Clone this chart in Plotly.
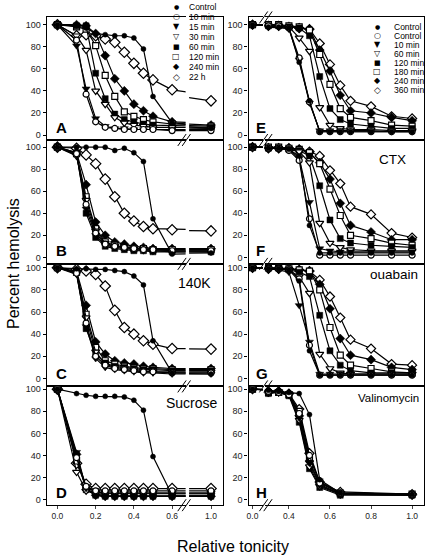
import plotly.graph_objects as go

W, H = 425, 558

# ---------------- data ----------------
x_left = [0, 0.1, 0.15, 0.2, 0.25, 0.3, 0.35, 0.4, 0.45, 0.5, 0.6, 1.0]
x_right = [0, 0.3, 0.35, 0.4, 0.45, 0.5, 0.55, 0.6, 0.65, 0.7, 0.8, 0.9, 1.0]
x_h = [0, 0.3, 0.35, 0.4, 0.45, 0.5, 0.55, 0.65, 1.0]

left_names = ["Control", "10 min", "15 min", "30 min", "60 min", "120 min", "240 min", "22 h"]
right_names = ["Control", "Control", "10 min", "60 min", "120 min", "180 min", "240 min", "360 min"]

A_vals = [
    [100, 99, 97, 92, 91, 90, 90, 88, 78, 35, 11, 6],
    [100, 86, 37, 12, 7, 6, 5, 5, 5, 5, 4, 4],
    [100, 81, 42, 15, 8, 6, 6, 5, 5, 5, 5, 5],
    [100, 90, 77, 40, 28, 16, 11, 9, 8, 7, 7, 6],
    [100, 99, 99, 56, 33, 19, 14, 12, 10, 9, 8, 7],
    [100, 98, 96, 81, 54, 35, 21, 17, 14, 12, 10, 8],
    [100, 100, 99, 92, 72, 51, 40, 28, 22, 17, 12, 9],
    [100, 90, 91, 90, 87, 84, 75, 65, 56, 50, 41, 31],
]
B_vals = [
    [100, 100, 100, 100, 100, 97, 99, 95, 87, 35, 3, 4],
    [100, 94, 48, 22, 12, 10, 9, 8, 7, 7, 6, 6],
    [100, 93, 44, 20, 11, 9, 8, 7, 6, 6, 5, 5],
    [100, 92, 52, 24, 13, 10, 9, 8, 7, 6, 6, 6],
    [100, 95, 40, 18, 10, 8, 7, 6, 6, 5, 5, 5],
    [100, 94, 55, 26, 14, 11, 9, 8, 8, 7, 7, 7],
    [100, 95, 66, 32, 20, 14, 12, 10, 9, 8, 8, 8],
    [100, 99, 93, 85, 71, 55, 40, 33, 28, 26, 25, 24],
]
C_vals = [
    [100, 99, 99, 98.5, 98.5, 97.5, 96.5, 92.5, 84.5, 34, 5, 4],
    [100, 95, 50, 20, 12, 9, 8, 7, 6, 6, 5, 5],
    [100, 94, 47, 18, 10, 8, 7, 6, 5, 5, 4, 4],
    [100, 95, 55, 24, 13, 10, 9, 8, 7, 6, 6, 6],
    [100, 96, 45, 22, 14, 11, 10, 9, 8, 8, 7, 7],
    [100, 96, 58, 28, 16, 13, 11, 10, 9, 9, 8, 8],
    [100, 97, 66, 33, 22, 16, 14, 13, 11, 10, 9, 9],
    [100, 98.5, 97, 94, 83.5, 61.5, 46, 40, 34, 31, 27, 26.5],
]
D_vals = [
    [100, 96, 94.5, 93.5, 93.5, 93.5, 93, 90, 81, 39, 4, 4],
    [100, 38, 12, 8, 8, 8, 8, 8, 8, 8, 8, 8],
    [100, 43, 10, 5, 4, 4, 4, 4, 4, 4, 4, 4],
    [100, 25, 8, 6, 6, 6, 6, 6, 6, 6, 6, 6],
    [100, 40, 9, 4, 3, 3, 3, 3, 3, 3, 3, 3],
    [100, 35, 11, 7, 6, 6, 6, 6, 6, 6, 6, 6],
    [100, 41, 9, 4, 3, 3, 3, 3, 3, 3, 3, 3],
    [100, 33, 14, 10, 10, 10, 10, 10, 10, 10, 10, 10],
]
E_vals = [
    [100, 98, 98, 97, 66, 31, 3, 3, 3, 3, 3, 3, 3],
    [100, 99, 99, 97, 70, 30, 3, 3, 3, 3, 3, 3, 3],
    [100, 98, 98, 96, 68, 29, 4, 4, 4, 4, 4, 3, 3],
    [100, 99, 99, 98, 88, 76, 25, 9, 6, 5, 5, 4, 4],
    [100, 99, 99, 98, 97, 90, 53, 24, 14, 10, 8, 6, 6],
    [100, 100, 100, 99, 98, 95, 73, 46, 24, 16, 13, 9, 8],
    [100, 99, 99, 98, 97, 96, 77, 58, 36, 22, 20, 16, 13],
    [100, 99, 99, 98, 97, 96, 83, 64, 45, 31, 26, 17, 15],
]
F_vals = [
    [100, 99, 99, 98, 92, 29, 4, 4, 4, 4, 4, 4, 4],
    [100, 99, 99, 97, 88, 35, 2, 2, 2, 2, 2, 2, 2],
    [100, 99, 99, 98, 90, 50, 8, 6, 5, 5, 5, 5, 5],
    [100, 99, 99, 98, 96, 86, 31, 13, 9, 7, 6, 6, 6],
    [100, 99, 99, 98, 97, 92, 65, 34, 17, 13, 11, 10, 9],
    [100, 100, 100, 99, 98, 95, 85, 62, 38, 20, 17, 13, 11],
    [100, 99, 99, 99, 98, 95, 86, 71, 49, 29, 23, 16, 16],
    [100, 99, 99, 99, 98, 96, 92, 79, 67, 46, 39, 22, 18],
]
G_vals = [
    [100, 99, 99, 98, 88, 25, 3, 3, 3, 3, 3, 3, 3],
    [100, 99, 99, 98, 90, 30, 3, 3, 3, 3, 3, 3, 3],
    [100, 99, 98, 96, 66, 33, 4, 4, 4, 4, 4, 4, 4],
    [100, 99, 99, 98, 92, 77, 22, 9, 5, 4, 4, 4, 4],
    [100, 100, 100, 98, 96, 92, 57, 25, 12, 7, 5, 5, 5],
    [100, 100, 100, 99, 98, 97, 80, 46, 21, 12, 9, 6, 5],
    [100, 99, 99, 99, 98, 97, 85, 63, 36, 21, 17, 10, 8],
    [100, 99, 99, 99, 98, 97, 89, 74, 55, 35, 27, 13, 12],
]
H_vals = [
    [100, 99, 98, 97, 96, 77, 18, 6, 5],
    [100, 98, 97, 95, 78, 40, 15, 6, 5],
    [100, 97, 98, 96, 74, 33, 13, 5, 4],
    [100, 97, 97, 95, 72, 30, 12, 5, 4],
    [100, 96, 97, 94, 70, 28, 11, 4, 4],
    [100, 97, 97, 95, 80, 38, 16, 6, 5],
    [100, 97, 98, 96, 76, 35, 14, 5, 4],
    [100, 98, 98, 96, 82, 42, 16, 7, 5],
]

y_ticks = [0, 20, 40, 60, 80, 100]
left_xticks = [[0, 0.2, 0.4, 0.6], [1.0]]
right_xticks = [[0], [0.4, 0.6, 0.8, 1.0]]

# ---------------- styles / layout geometry ----------------
FONT = "Liberation Sans, Arial, sans-serif"
left_styles = [("circle", "black", 5), ("circle", "white", 6), ("triangle-down", "black", 7),
               ("triangle-down", "white", 7), ("square", "black", 6), ("square", "white", 6),
               ("diamond", "black", 7), ("diamond", "white", 8)]
right_styles = [("circle", "black", 5), ("circle", "white", 6), ("triangle-down", "black", 7),
                ("triangle-down", "white", 7), ("square", "black", 6), ("square", "white", 6),
                ("diamond", "black", 7), ("diamond", "white", 7)]
legend_chars = ["●", "○", "▼", "▽", "■", "□", "◆", "◇"]
legend_char_sizes = [6, 8, 8, 8, 7, 8, 8, 9]

row_px = [(15.5, 138.5), (138.5, 262.8), (262.8, 385.8), (385.8, 505.0)]
row_yrange = [[-4.5, 106.6], [-5.9, 106.5], [-7.2, 103.5], [-5.0, 102.5]]
left_segs = [((45, 184.5), [-0.0557, 0.6708]), ((188, 222), [0.8854, 1.0625])]
right_segs = [((247.7, 262), [-0.0194, 0.05]), ((264, 424), [0.2822, 1.058])]


def px_x(p):
    return p / W


def px_y(p):
    return 1 - p / H


panels = [
    ("A", 0, 0, x_left, A_vals, None),
    ("B", 0, 1, x_left, B_vals, None),
    ("C", 0, 2, x_left, C_vals, "140K"),
    ("D", 0, 3, x_left, D_vals, "Sucrose"),
    ("E", 1, 0, x_right, E_vals, None),
    ("F", 1, 1, x_right, F_vals, "CTX"),
    ("G", 1, 2, x_right, G_vals, "ouabain"),
    ("H", 1, 3, x_h, H_vals, "Valinomycin"),
]
cond_pos = {"140K": (212, 282, 14), "Sucrose": (219, 402, 14), "CTX": (408, 158, 13.5),
            "ouabain": (420, 273, 13.5), "Valinomycin": (421, 397, 11.5)}

fig = go.Figure()
layout = dict(width=W, height=H, margin=dict(l=0, r=0, t=0, b=0),
              paper_bgcolor="white", plot_bgcolor="white", showlegend=False,
              font=dict(family=FONT, color="black"))
annotations = []
shapes = []

n = 0
for letter, col, row, xs, vals, cond in panels:
    segs = left_segs if col == 0 else right_segs
    xt = left_xticks if col == 0 else right_xticks
    styles = left_styles if col == 0 else right_styles
    top, bot = row_px[row]
    for s, ((pl, pr), xr) in enumerate(segs):
        n += 1
        xa = "xaxis" if n == 1 else f"xaxis{n}"
        ya = "yaxis" if n == 1 else f"yaxis{n}"
        xref = "x" if n == 1 else f"x{n}"
        yref = "y" if n == 1 else f"y{n}"
        bottom_row = row == 3
        layout[xa] = dict(domain=[px_x(pl), px_x(pr)], range=xr, anchor=yref,
                          showline=True, mirror=True, linecolor="black", linewidth=1.2,
                          showgrid=False, zeroline=False,
                          tickvals=xt[s], tickformat=".1f",
                          ticks="outside" if bottom_row else "", ticklen=3,
                          showticklabels=bottom_row,
                          tickfont=dict(size=8.5, color="#222", family=FONT))
        if s == 0:
            layout[ya] = dict(domain=[px_y(bot), px_y(top)], range=row_yrange[row], anchor=xref,
                              showline=True, linecolor="black", linewidth=1.2, side="left",
                              showgrid=False, zeroline=False, tickvals=y_ticks,
                              ticks="outside", ticklen=3, tickcolor="black",
                              tickfont=dict(size=9, color="#222", family=FONT))
        else:
            layout[ya] = dict(domain=[px_y(bot), px_y(top)], range=row_yrange[row], anchor=xref,
                              showline=True, linecolor="black", linewidth=1.2, side="right",
                              showgrid=False, zeroline=False, ticks="", showticklabels=False)
        for k in range(len(vals) - 1, -1, -1):
            sym, fill, size = styles[k]
            fig.add_trace(go.Scatter(
                x=xs, y=vals[k], mode="lines+markers", xaxis=xref, yaxis=yref,
                line=dict(color="black", width=1.2),
                marker=dict(symbol=sym, size=size, color=fill,
                            line=dict(color="black", width=1.2 if fill == "white" else 0.5)),
                showlegend=False, hoverinfo="skip"))
    # panel letter
    lx = 52 if col == 0 else 253
    annotations.append(dict(text=f"<b>{letter}</b>", x=px_x(lx), y=px_y(bot - 13),
                            xref="paper", yref="paper", xanchor="left", yanchor="middle",
                            showarrow=False, font=dict(size=15, family=FONT)))
    if cond:
        cx, cy, cs = cond_pos[cond]
        annotations.append(dict(text=cond, x=px_x(cx), y=px_y(cy), xref="paper", yref="paper",
                                xanchor="right", yanchor="middle", showarrow=False,
                                font=dict(size=cs, family=FONT)))

# break marks
def slash_pair(cx, cy):
    out = []
    for off in (-2.2, 2.2):
        out.append(dict(type="line", xref="paper", yref="paper",
                        x0=px_x(cx + off - 4.2), y0=px_y(cy + 6),
                        x1=px_x(cx + off + 4.2), y1=px_y(cy - 6),
                        line=dict(color="black", width=1)))
    return out

for top, bot in row_px:
    shapes += slash_pair(183, bot)
for yb in [row_px[0][0]] + [b for _, b in row_px]:
    shapes += slash_pair(265, yb)

# legends
for i, name in enumerate(left_names):
    yy = 5 + 10 * i
    annotations.append(dict(text=legend_chars[i], x=px_x(175), y=px_y(yy), xref="paper", yref="paper",
                            xanchor="center", yanchor="middle", showarrow=False,
                            font=dict(size=legend_char_sizes[i], family="DejaVu Sans")))
    annotations.append(dict(text=name, x=px_x(186), y=px_y(yy), xref="paper", yref="paper",
                            xanchor="left", yanchor="middle", showarrow=False,
                            font=dict(size=8.5, family=FONT)))
for i, name in enumerate(right_names):
    yy = 25 + 9 * i
    annotations.append(dict(text=legend_chars[i], x=px_x(377), y=px_y(yy), xref="paper", yref="paper",
                            xanchor="center", yanchor="middle", showarrow=False,
                            font=dict(size=legend_char_sizes[i], family="DejaVu Sans")))
    annotations.append(dict(text=name, x=px_x(392), y=px_y(yy), xref="paper", yref="paper",
                            xanchor="left", yanchor="middle", showarrow=False,
                            font=dict(size=8.5, family=FONT)))

# axis titles
annotations.append(dict(text="Percent hemolysis", x=px_x(11), y=px_y(262), xref="paper", yref="paper",
                        xanchor="center", yanchor="middle", textangle=-90, showarrow=False,
                        font=dict(size=16, family=FONT)))
annotations.append(dict(text="Relative tonicity", x=px_x(232), y=px_y(546), xref="paper", yref="paper",
                        xanchor="center", yanchor="middle", showarrow=False,
                        font=dict(size=16, family=FONT)))

layout["annotations"] = annotations
layout["shapes"] = shapes
fig.update_layout(**layout)
fig.write_html("out.html", config={"displayModeBar": False},
               post_script="document.body.style.margin='0';document.body.style.overflow='hidden';")
